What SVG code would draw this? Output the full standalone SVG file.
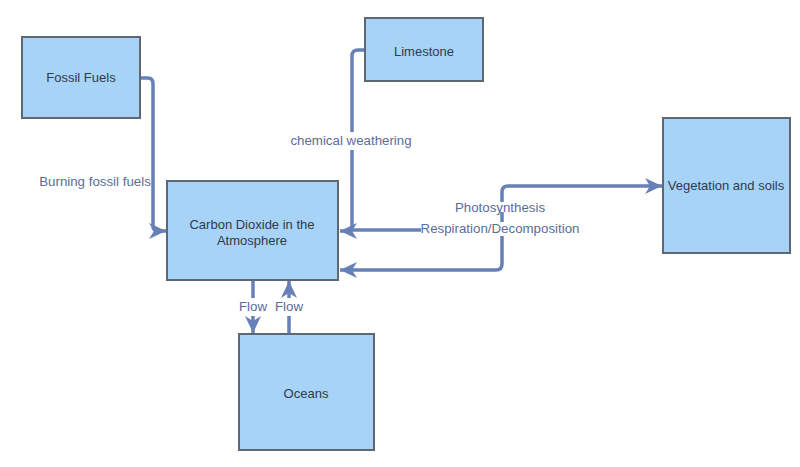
<svg xmlns="http://www.w3.org/2000/svg" width="800" height="467" viewBox="0 0 800 467">
<style>
.box{fill:#a7d3f6;stroke:#5e6873;stroke-width:2}
.nt{font-family:"Liberation Sans",Arial,sans-serif;font-size:13px;fill:#2f3a4d;text-anchor:middle}
.lb{font-family:"Liberation Sans",Arial,sans-serif;font-size:13.3px;fill:#5a6d99;text-anchor:middle}
.c{fill:none;stroke:#6880b8;stroke-width:3.5}
</style>
<defs>
<marker id="ah" markerUnits="userSpaceOnUse" markerWidth="18" markerHeight="18" refX="17" refY="9" orient="auto" viewBox="0 0 18 18">
<path d="M0,1 L17,9 L0,17 L5,9 Z" fill="#6880b8"/>
</marker>
</defs>
<rect width="800" height="467" fill="#ffffff"/>
<g id="connectors">
<path class="c" d="M140,78 H148 Q153,78 153,84 V226 Q153,231 159,231 H166" marker-end="url(#ah)"/>
<path class="c" d="M365,50 H358 Q352,50 352,56 V132"/>
<path class="c" d="M352,150 V225 Q352,231 346,231 H340" marker-end="url(#ah)"/>
<path class="c" d="M421,230 H352"/>
<path class="c" d="M502,202 V192 Q502,186 508,186 H662" marker-end="url(#ah)"/>
<path class="c" d="M502,212 V222"/>
<path class="c" d="M502,236 V264 Q502,270 496,270 H340" marker-end="url(#ah)"/>
<path class="c" d="M253,281 V298"/>
<path class="c" d="M253,316 V333" marker-end="url(#ah)"/>
<path class="c" d="M289,334 V316"/>
<path class="c" d="M289,298 V281" marker-end="url(#ah)"/>
</g>
<g id="fossil">
<rect class="box" x="22" y="37" width="118" height="81"/>
<text class="nt" x="81" y="82">Fossil Fuels</text>
</g>
<g id="limestone">
<rect class="box" x="365" y="18" width="118" height="63"/>
<text class="nt" x="424" y="56">Limestone</text>
</g>
<g id="co2">
<rect class="box" x="167" y="181" width="171" height="99"/>
<text class="nt" x="252" y="229">Carbon Dioxide in the</text>
<text class="nt" x="252" y="245">Atmosphere</text>
</g>
<g id="vegetation">
<rect class="box" x="663" y="118" width="127" height="135"/>
<text class="nt" x="726" y="190">Vegetation and soils</text>
</g>
<g id="oceans">
<rect class="box" x="239" y="334" width="135" height="116"/>
<text class="nt" x="306" y="398">Oceans</text>
</g>
<g id="labels">
<text class="lb" x="95" y="186">Burning fossil fuels</text>
<text class="lb" x="351" y="145">chemical weathering</text>
<text class="lb" x="500" y="212">Photosynthesis</text>
<text class="lb" x="500" y="233">Respiration/Decomposition</text>
<text class="lb" x="253" y="311">Flow</text>
<text class="lb" x="289" y="311">Flow</text>
</g>
</svg>
